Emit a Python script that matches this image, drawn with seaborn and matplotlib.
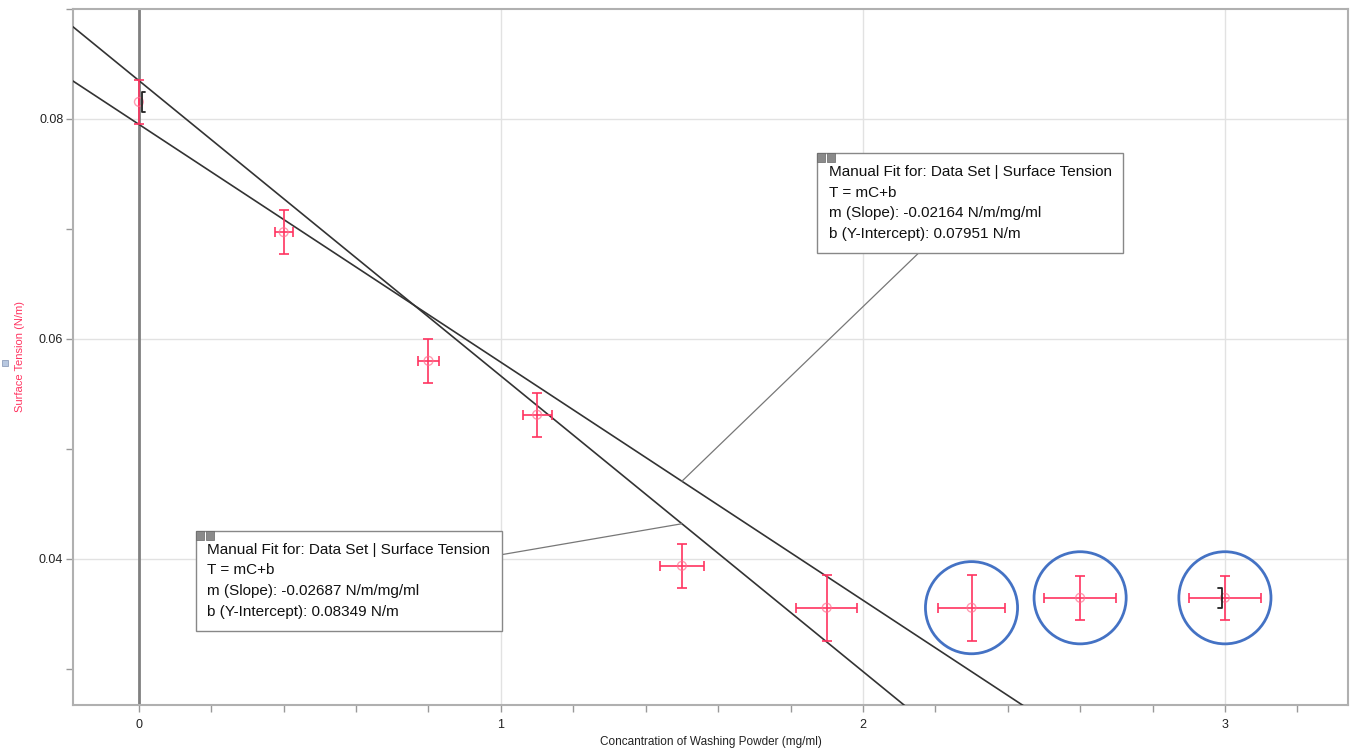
import numpy as np
import pandas as pd
import matplotlib
matplotlib.use("Agg")
import matplotlib.pyplot as plt
from matplotlib.patches import Rectangle
import seaborn as sns

sns.set_theme(style="white")
plt.rcParams['font.family'] = ['Liberation Sans', 'DejaVu Sans']

# measured data
conc = [0.0, 0.4, 0.8, 1.1, 1.5, 1.9, 2.3, 2.6, 3.0]
tension = [0.08155, 0.0697, 0.0580, 0.0531, 0.03936, 0.03555, 0.03555, 0.03645, 0.03645]
conc_err = [0.0, 0.025, 0.03, 0.04, 0.06, 0.085, 0.093, 0.1, 0.1]
tension_err = [0.002, 0.002, 0.002, 0.002, 0.002, 0.003, 0.003, 0.002, 0.002]
circled = [6, 7, 8]  # points marked with blue circles

# manual fits
fit_slopes = [-0.02164, -0.02687]
fit_intercepts = [0.07951, 0.08349]
fit_labels = ["-0.02164", "-0.02687"]
fit_b_labels = ["0.07951", "0.08349"]
fit_note_x = [1.5, 1.5]
fit_box_pos = [(2.297, 0.07235), (0.58, 0.03799)]

xlim = (-0.182, 3.34)
ylim = (0.0267, 0.090)

red = '#ff3360'
W, H = 1351, 751

fig = plt.figure(figsize=(13.51, 7.51), dpi=100)
ax = fig.add_axes([73/W, 46/H, (1348-73)/W, (705-9)/H])
ax.set_xlim(*xlim)
ax.set_ylim(*ylim)

# grid + ticks
ax.set_xticks([0, 1, 2, 3])
ax.set_xticks(np.arange(0.2, 3.3, 0.2), minor=True)
ax.set_yticks([0.04, 0.06, 0.08])
ax.set_yticks([0.03, 0.05, 0.07, 0.09], minor=True)
ax.set_xticklabels(['0', '1', '2', '3'])
ax.set_yticklabels(['0.04', '0.06', '0.08'])
ax.grid(True, which='major', color='#e2e2e2', lw=1)
ax.tick_params(which='both', direction='out', length=5, width=1, color='#999999',
               labelsize=9, labelcolor='#222222', bottom=True, left=True)
ax.tick_params(axis='y', pad=2)
ax.tick_params(axis='x', pad=5)
for sp in ax.spines.values():
    sp.set_color('#b0b0b0')
    sp.set_linewidth(1.5)
ax.set_axisbelow(True)

# vertical axis line at x = 0
ax.axvline(0, color='#808080', lw=2, zorder=1)

# fit lines
xs = np.linspace(xlim[0], xlim[1], 200)
for m, b in zip(fit_slopes, fit_intercepts):
    df = pd.DataFrame({'x': xs, 'y': m * xs + b})
    sns.lineplot(data=df, x='x', y='y', ax=ax, color='#333333', lw=1.2,
                 estimator=None, sort=False, zorder=3)

# error bars and points
ax.errorbar(conc, tension, xerr=conc_err, yerr=tension_err, fmt='none',
            ecolor=red, elinewidth=1.2, capsize=3.5, capthick=1.2, zorder=4)
pts = pd.DataFrame({'conc': conc, 'tension': tension})
sns.scatterplot(data=pts, x='conc', y='tension', ax=ax, marker='o', s=40,
                facecolor='none', edgecolor='#ff7090', linewidth=1, alpha=0.7, zorder=5)

# blue circles
sns.scatterplot(data=pts.iloc[circled], x='conc', y='tension', ax=ax, marker='o',
                s=4400, facecolor='none', edgecolor='#4472c4', linewidth=2, zorder=6)

# fit range brackets
for i, side in [(0, 1), (len(conc) - 1, -1)]:
    x0 = conc[i] + side * 0.008
    y0 = tension[i]
    ax.plot([x0 + side * 0.01, x0, x0, x0 + side * 0.01],
            [y0 + 0.0009, y0 + 0.0009, y0 - 0.0009, y0 - 0.0009],
            color='#222222', lw=1.3, zorder=7)

# annotation boxes
anns = []
for m, b, ml, bl, nx, pos in zip(fit_slopes, fit_intercepts, fit_labels, fit_b_labels,
                                  fit_note_x, fit_box_pos):
    txt = ("Manual Fit for: Data Set | Surface Tension\nT = mC+b\n"
           f"m (Slope): {ml} N/m/mg/ml\nb (Y-Intercept): {bl} N/m")
    ann = ax.annotate(txt, xy=(nx, m * nx + b), xytext=pos, textcoords='data',
                      ha='center', va='center', multialignment='left',
                      fontsize=11, color='#111111', linespacing=1.62,
                      bbox=dict(boxstyle='square,pad=0.75', fc='white', ec='#888888', lw=1),
                      arrowprops=dict(arrowstyle='-', color='#777777', lw=0.9,
                                      shrinkA=0, shrinkB=0), zorder=8)
    anns.append(ann)

ax.set_xlabel('Concantration of Washing Powder (mg/ml)', fontsize=8.5, color='#222222', labelpad=4)
ax.set_ylabel('Surface Tension (N/m)', fontsize=8, color=red)
ax.yaxis.set_label_coords((25 - 73) / (1348 - 73), 0.5)

fig.canvas.draw()
# small close / minimise buttons on the boxes
for ann in anns:
    bb = ann.get_bbox_patch().get_window_extent()
    for k in range(2):
        fig.patches.append(Rectangle(((bb.x0 + k * 10) / W, (bb.y1 - 9) / H), 8 / W, 9 / H,
                                     transform=fig.transFigure, fc='#8a8a8a', ec='#666666',
                                     lw=0.5, zorder=20))

fig.patches.append(Rectangle((2 / W, 1 - 366 / H), 6 / W, 6 / H,
                             transform=fig.transFigure, fc='#b8c8e0', ec='#8090b0', lw=0.5))

fig.savefig('out.png', dpi=100)
